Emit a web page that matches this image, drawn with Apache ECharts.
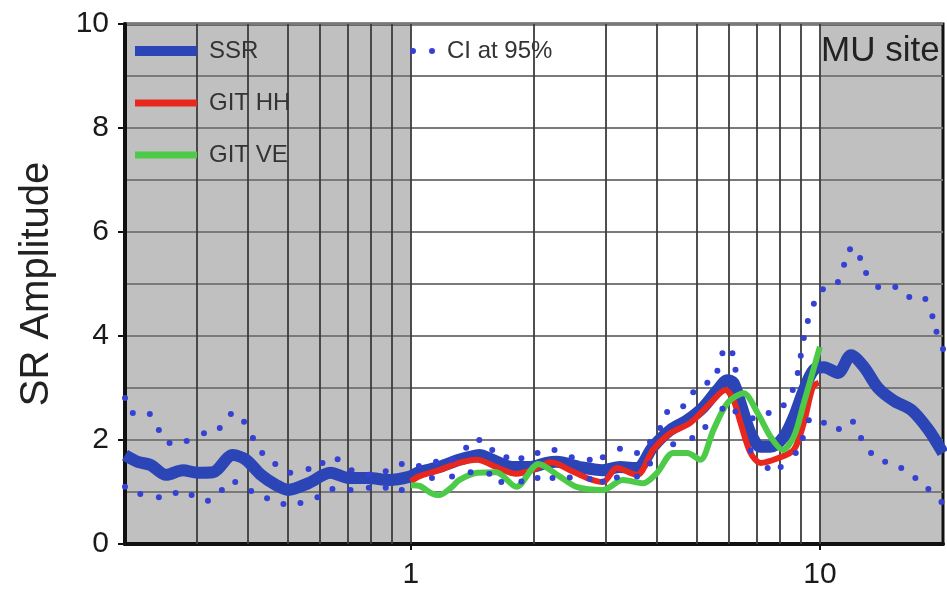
<!DOCTYPE html>
<html><head><meta charset="utf-8">
<script src="https://cdn.jsdelivr.net/npm/echarts@6/dist/echarts.min.js"></script>
<style>html,body{margin:0;padding:0;background:#fff}#c{width:947px;height:593px}</style>
</head><body><div id="c"></div><script>
// Frequency (Hz) vs SR amplitude
const ssrData = [
  [0.2,1.71],[0.215,1.58],[0.231,1.52],[0.252,1.33],[0.277,1.42],[0.301,1.37],[0.328,1.38],
  [0.367,1.71],[0.395,1.62],[0.43,1.33],[0.469,1.13],[0.501,1.04],[0.562,1.17],[0.636,1.37],
  [0.704,1.27],[0.789,1.27],[0.883,1.23],[0.989,1.29],[1.046,1.38],[1.172,1.48],[1.312,1.62],
  [1.388,1.67],[1.47,1.71],[1.581,1.62],[1.771,1.48],[1.95,1.48],[2.146,1.56],[2.271,1.58],
  [2.587,1.48],[2.947,1.42],[3.244,1.48],[3.572,1.46],[3.909,1.87],[4.305,2.19],[4.739,2.38],
  [5.188,2.63],[5.616,2.96],[5.942,3.15],[6.148,3.1],[6.397,2.71],[6.77,2.13],[7.162,1.87],
  [7.58,1.87],[8.158,2.06],[8.632,2.44],[9.135,2.96],[9.667,3.35],[10.23,3.4],[11.07,3.29],
  [11.92,3.63],[12.83,3.4],[13.88,3.0],[15.2,2.75],[16.73,2.58],[18.42,2.2],[20,1.75]
];
const gitHHData = [
  [1.0,1.2],[1.046,1.3],[1.172,1.42],[1.312,1.56],[1.453,1.62],[1.617,1.48],[1.811,1.35],
  [1.98,1.42],[2.2,1.57],[2.48,1.4],[2.692,1.27],[2.947,1.19],[3.189,1.46],[3.572,1.33],
  [3.909,1.81],[4.305,2.13],[4.82,2.33],[5.398,2.71],[5.875,2.96],[6.148,2.77],[6.397,2.33],
  [6.77,1.75],[7.162,1.56],[7.886,1.65],[8.632,1.81],[9.135,2.33],[9.612,3.02],[9.944,3.1]
];
const gitVEData = [
  [1.0,1.13],[1.046,1.12],[1.126,0.97],[1.172,0.94],[1.261,1.1],[1.312,1.23],[1.453,1.37],
  [1.617,1.38],[1.811,1.1],[2.05,1.54],[2.31,1.3],[2.54,1.1],[2.947,1.04],[3.299,1.23],
  [3.695,1.17],[3.999,1.37],[4.378,1.75],[4.739,1.75],[5.1,1.62],[5.49,2.19],[5.942,2.71],
  [6.507,2.9],[7.043,2.52],[7.58,2.06],[8.112,1.81],[8.632,2.06],[9.135,2.71],[10,3.79]
];
const ciUpperData = [
  [0.2,2.81],[0.209,2.52],[0.23,2.5],[0.242,2.19],[0.257,1.94],[0.283,1.98],[0.312,2.13],
  [0.341,2.23],[0.363,2.5],[0.391,2.35],[0.411,2.04],[0.433,1.75],[0.466,1.54],[0.507,1.37],
  [0.562,1.44],[0.608,1.56],[0.662,1.63],[0.716,1.42],[0.789,1.33],[0.868,1.4],[0.95,1.54],
  [1.046,1.5],[1.152,1.58],[1.261,1.62],[1.365,1.85],[1.47,2.0],[1.581,1.81],[1.712,1.67],
  [1.863,1.65],[2.04,1.75],[2.245,1.81],[2.473,1.67],[2.737,1.62],[2.947,1.67],[3.244,1.83],
  [3.572,1.75],[3.843,1.96],[4.068,2.23],[4.232,2.54],[4.633,2.65],[4.902,2.92],[5.307,3.1],
  [5.616,3.33],[5.777,3.67],[6.113,3.67],[6.218,3.35],[6.847,2.42],[7.494,2.52],[8.158,2.67],
  [8.584,2.96],[8.83,3.29],[8.98,3.62],[9.135,3.96],[9.344,4.29],[9.667,4.62],[10.17,4.9],
  [11.07,5.04],[11.46,5.37],[11.85,5.67],[12.54,5.5],[12.97,5.21],[13.88,4.94],[15.29,4.94],
  [16.54,4.75],[18.11,4.71],[18.84,4.38],[19.28,4.08],[20,3.75]
];
const ciLowerData = [
  [0.2,1.1],[0.218,0.96],[0.242,0.9],[0.266,0.98],[0.291,0.94],[0.319,0.83],[0.345,1.04],
  [0.372,1.19],[0.407,1.02],[0.445,0.88],[0.488,0.77],[0.537,0.79],[0.591,0.9],[0.643,1.06],
  [0.712,1.04],[0.789,1.08],[0.868,1.08],[0.95,1.04],[1.126,1.27],[1.261,1.3],[1.4,1.38],
  [1.555,1.35],[1.664,1.19],[1.863,1.2],[2.04,1.27],[2.22,1.27],[2.446,1.28],[2.737,1.25],
  [2.947,1.2],[3.189,1.28],[3.572,1.3],[3.843,1.55],[4.378,1.92],[4.875,2.04],[5.248,2.25],
  [5.777,2.6],[6.218,2.55],[6.77,1.8],[7.452,1.46],[8.021,1.48],[8.73,1.75],[9.083,2.04],
  [9.397,2.38],[10.23,2.33],[11.13,2.21],[12.05,2.35],[12.61,2.04],[13.34,1.75],[14.44,1.58],
  [15.81,1.46],[17.12,1.27],[18.42,1.06],[19.83,0.81]
];
const shadedRanges = [[0.2, 1], [10, 20]];
const vGridValues = [0.3,0.4,0.5,0.6,0.7,0.8,0.9,1,2,3,4,5,6,7,8,9,10];
const xRange = [0.2, 20];
const yRange = [0, 10];

const FONT = 'Liberation Sans, Arial, sans-serif';
const BLUE = '#2b45b6', RED = '#e8281f', GREEN = '#4dca48', DOT = '#3441d2';

const chart = echarts.init(document.getElementById('c'), null, {renderer: 'canvas'});
const legendBase = {
  orient: 'horizontal', padding: 0, itemGap: 0, selectedMode: false,
  textStyle: {fontFamily: FONT, fontSize: 24, color: '#333', lineHeight: 24, padding: [0,0,0,7]}
};
chart.setOption({
  animation: false,
  backgroundColor: '#fff',
  title: {
    text: 'MU site', left: 821, top: 34, padding: 0,
    textStyle: {fontFamily: FONT, fontSize: 35, fontWeight: 'normal', color: '#222', lineHeight: 35}
  },
  legend: [
    Object.assign({}, legendBase, {data: ['SSR'], left: 135, top: 39, icon: 'rect', itemWidth: 62, itemHeight: 10}),
    Object.assign({}, legendBase, {data: ['GIT HH'], left: 135, top: 91, icon: 'rect', itemWidth: 62, itemHeight: 7}),
    Object.assign({}, legendBase, {data: ['GIT VE'], left: 135, top: 143, icon: 'rect', itemWidth: 62, itemHeight: 7}),
    Object.assign({}, legendBase, {data: ['CI at 95%'], left: 410, top: 39,
      icon: 'path://M3,0A3,3,0,1,1,3,6A3,3,0,1,1,3,0ZM22,0A3,3,0,1,1,22,6A3,3,0,1,1,22,0Z',
      itemWidth: 25, itemHeight: 6, itemStyle: {color: DOT}})
  ],
  grid: {left: 125, right: 4, top: 24, bottom: 49, show: true, z: 1.5,
    borderColor: '#111', borderWidth: 3, backgroundColor: 'transparent'},
  xAxis: {
    type: 'log', logBase: 10, min: xRange[0], max: xRange[1], z: 1.5,
    axisLine: {show: true, onZero: false, lineStyle: {color: '#111', width: 4}},
    axisTick: {show: true, length: 6, lineStyle: {color: '#111', width: 2}},
    axisLabel: {
      fontFamily: FONT, fontSize: 30, color: '#1a1a1a', margin: 16,
      showMinLabel: false, showMaxLabel: false,
      formatter: v => {
        const l = Math.log10(v);
        return Math.abs(l - Math.round(l)) < 1e-6 && Math.round(l) >= 0 ? String(Math.round(v)) : '';
      }
    },
    splitLine: {show: false}
  },
  yAxis: {
    type: 'value', min: yRange[0], max: yRange[1], interval: 2, z: 1.5,
    name: 'SR Amplitude', nameLocation: 'middle', nameGap: 68, nameRotate: 90,
    nameTextStyle: {fontFamily: FONT, fontSize: 40, color: '#222'},
    axisLine: {show: true, lineStyle: {color: '#111', width: 4}},
    axisTick: {show: true, length: 7, lineStyle: {color: '#111', width: 2}},
    axisLabel: {fontFamily: FONT, fontSize: 30, color: '#1a1a1a', margin: 16},
    splitLine: {show: true, lineStyle: {color: '#7a7a7a', width: 2}},
    minorTick: {show: false, splitNumber: 2},
    minorSplitLine: {show: true, lineStyle: {color: '#7a7a7a', width: 2}}
  },
  series: [
    {
      name: 'SSR', type: 'line', data: ssrData, smooth: 0.3, symbol: 'none', z: 3,
      lineStyle: {color: BLUE, width: 12}, itemStyle: {color: BLUE},
      markArea: {
        silent: true, z: 1,
        itemStyle: {color: '#c0c0c0'},
        data: shadedRanges.map(r => [{xAxis: r[0]}, {xAxis: r[1]}])
      },
      markLine: {
        silent: true, z: 1.6, symbol: ['none', 'none'], label: {show: false},
        lineStyle: {color: '#3c3c3c', width: 1.8, type: 'solid'},
        emphasis: {disabled: true},
        data: vGridValues.map(v => ({xAxis: v}))
      }
    },
    {
      name: 'GIT HH', type: 'line', data: gitHHData, smooth: 0.3, symbol: 'none', z: 4,
      lineStyle: {color: RED, width: 6}, itemStyle: {color: RED}
    },
    {
      name: 'GIT VE', type: 'line', data: gitVEData, smooth: 0.3, symbol: 'none', z: 5,
      lineStyle: {color: GREEN, width: 6}, itemStyle: {color: GREEN}
    },
    {
      name: 'CI at 95%', type: 'line', data: ciUpperData, symbol: 'circle', symbolSize: 6,
      showSymbol: true, z: 6, lineStyle: {width: 0, opacity: 0}, itemStyle: {color: DOT}
    },
    {
      name: 'CI at 95%', type: 'line', data: ciLowerData, symbol: 'circle', symbolSize: 6,
      showSymbol: true, z: 6, lineStyle: {width: 0, opacity: 0}, itemStyle: {color: DOT}
    }
  ]
});
</script></body></html>
